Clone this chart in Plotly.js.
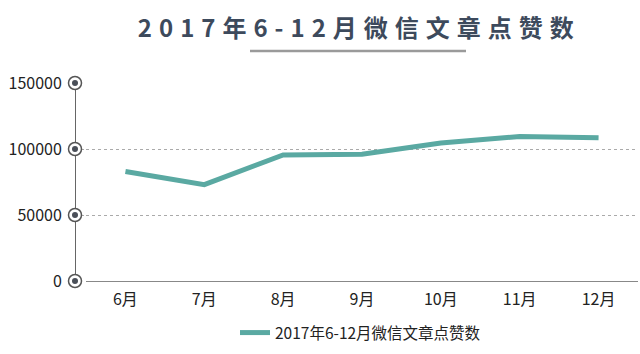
<!DOCTYPE html>
<html><head><meta charset="utf-8">
<script src="https://cdn.plot.ly/plotly-3.0.1.min.js"></script>
<style>body{margin:0;background:#fff}#c{width:640px;height:354px}
#c .gtitle{letter-spacing:7px}</style>
</head><body><div id="c"></div>
<script>
const months = ['6月','7月','8月','9月','10月','11月','12月'];
const likes = [83000, 73000, 95500, 96000, 104500, 109500, 108500];
const yTicks = [0, 50000, 100000, 150000];
const seriesName = '2017年6-12月微信文章点赞数';
const titleText = '2017年6-12月微信文章点赞数';

const W = 640, L = 75, R = 2;
const plotW = W - L - R;
const xStart = (86 - L) / plotW;
const FONT = 'Noto Sans CJK SC, sans-serif';

const trace = {
  x: months, y: likes, type:'scatter', mode:'lines', name: seriesName,
  line:{color:'#5aa9a2', width:5}
};
const ring = {
  x: yTicks.map(() => 0), y: yTicks, xaxis:'x2', yaxis:'y', type:'scatter', mode:'markers',
  showlegend:false, hoverinfo:'skip', cliponaxis:false,
  marker:{symbol:'circle', size:13, color:'#fff', line:{color:'#555', width:1.5}}
};
const dot = {
  x: yTicks.map(() => 0), y: yTicks, xaxis:'x2', yaxis:'y', type:'scatter', mode:'markers',
  showlegend:false, hoverinfo:'skip', cliponaxis:false,
  marker:{symbol:'circle', size:6, color:'#4a4f58', line:{width:0}}
};

const layout = {
  width:640, height:354,
  margin:{l:L, r:R, t:83, b:73, autoexpand:false},
  paper_bgcolor:'#fff', plot_bgcolor:'#fff',
  title:{text:'<b>'+titleText+'</b>', xref:'paper', x:0.505, xanchor:'center', y:0.918, yanchor:'middle',
    font:{family:FONT, size:24, color:'#3d4a5c', weight:900}},
  xaxis:{domain:[xStart,1], range:[-0.5,6.5], type:'category', showgrid:false,
    showline:true, linecolor:'#888', linewidth:1, ticks:'', zeroline:false, automargin:false,
    tickfont:{family:FONT, size:16, color:'#222'}, ticklabelstandoff:4},
  xaxis2:{domain:[0, xStart], range:[0,1], anchor:'y', visible:false, fixedrange:true},
  yaxis:{range:[0,150000], tickvals:yTicks, ticktext:yTicks.map(String), anchor:'free', position:0,
    showline:true, linecolor:'#666', linewidth:1, showgrid:true, gridcolor:'#aaa', griddash:'dot',
    gridwidth:1, zeroline:false, ticks:'', ticklabelstandoff:10, automargin:false,
    tickfont:{family:FONT, size:16, color:'#222'}},
  showlegend:true,
  legend:{orientation:'h', x:(236+485)/2/640, xref:'container', xanchor:'center', y:(354-333)/354, yref:'container', yanchor:'middle',
    font:{family:FONT, size:15.5, color:'#222'}},
  shapes:[{type:'line', xref:'paper', yref:'paper', x0:(250-L)/plotW, x1:(466-L)/plotW,
    y0:32, y1:32, ysizemode:'pixel', yanchor:1, line:{color:'#9a9a9a', width:2.5}}]
};
Plotly.newPlot('c', [trace, ring, dot], layout, {displayModeBar:false, staticPlot:true});
</script></body></html>
